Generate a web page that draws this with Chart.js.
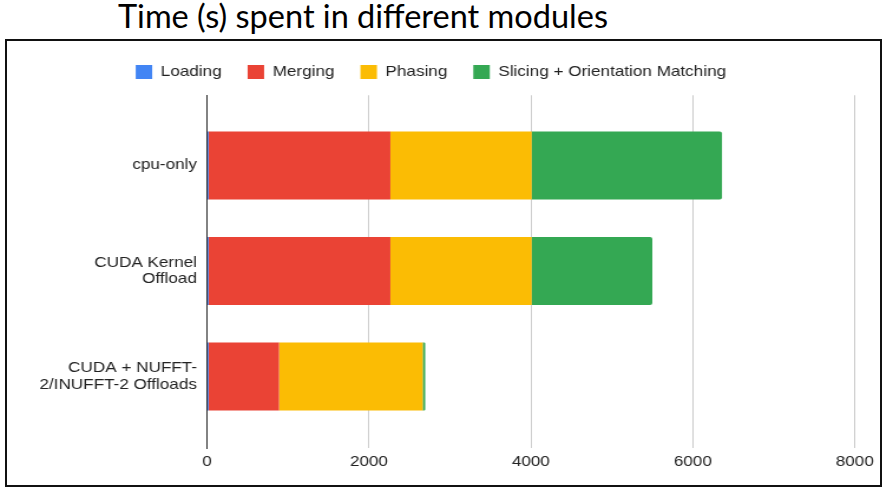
<!DOCTYPE html>
<html>
<head>
<meta charset="utf-8">
<script src="https://cdn.jsdelivr.net/npm/chart.js@4/dist/chart.umd.min.js"></script>
<style>
  html, body { margin: 0; padding: 0; background: #fff; width: 883px; height: 489px; overflow: hidden; }
  #title {
    position: absolute; left: 118px; top: -4px;
    font-family: Lato, "Open Sans", sans-serif; font-size: 32.5px; color: #000;
    white-space: nowrap; line-height: 40px;
  }
  #frame {
    position: absolute; left: 5px; top: 39px; width: 877px; height: 448px;
    border: 2px solid #111; box-sizing: border-box; overflow: hidden;
  }
  #stretch { position: absolute; left: 0; top: 0; transform-origin: 0 0; }
  canvas { display: block; }
</style>
</head>
<body>
<div id="title">Time (s) spent in different modules</div>
<div id="frame"><div id="stretch"><canvas id="chart" width="740" height="444"></canvas></div></div>
<script>
// Run configurations (one bar each) and how their labels wrap
const categories = ['cpu-only', 'CUDA Kernel Offload', 'CUDA + NUFFT-2/INUFFT-2 Offloads'];
const categoryLines = [['cpu-only'], ['CUDA Kernel', 'Offload'], ['CUDA + NUFFT-', '2/INUFFT-2 Offloads']];

// Seconds spent in each module per configuration
const loading = [20, 20, 20];
const merging = [2245, 2245, 870];
const phasing = [1745, 1745, 1775];
const slicing = [2350, 1490, 30];

const xTicks = [0, 2000, 4000, 6000, 8000];

// The chart is drawn at a narrower width and stretched horizontally to fill the frame
const INNER_W = 740;
const FRAME_W = 873;
document.getElementById('stretch').style.transform = 'scaleX(' + (FRAME_W / INNER_W) + ')';

const toPoints = arr => arr.map((v, i) => ({ x: v, y: i }));

// Adds a little room between the legend and the plot area
const legendGap = {
  id: 'legendGap',
  afterInit(chart) {
    const fit = chart.legend.fit;
    chart.legend.fit = function () { fit.call(this); this.height += 6; };
  }
};

const font = { family: '"Liberation Sans", Arial, sans-serif', size: 14.5, lineHeight: 1.15 };

new Chart(document.getElementById('chart'), {
  type: 'bar',
  data: {
    datasets: [
      { label: 'Loading', data: toPoints(loading), backgroundColor: '#4285F4' },
      { label: 'Merging', data: toPoints(merging), backgroundColor: '#EA4335' },
      { label: 'Phasing', data: toPoints(phasing), backgroundColor: '#FBBC04' },
      { label: 'Slicing + Orientation Matching', data: toPoints(slicing), backgroundColor: '#34A853', borderRadius: 2, borderSkipped: 'start' }
    ]
  },
  plugins: [legendGap],
  options: {
    indexAxis: 'y',
    responsive: false,
    animation: false,
    devicePixelRatio: 1,
    categoryPercentage: 1,
    barPercentage: 0.643,
    layout: { padding: { top: 1.75, right: 21.4, bottom: 10, left: 0 } },
    plugins: {
      legend: {
        position: 'top',
        labels: { boxWidth: 14, boxHeight: 14, padding: 22, color: '#222', font: font }
      },
      tooltip: { enabled: false }
    },
    scales: {
      x: {
        type: 'linear',
        stacked: true,
        min: 0,
        max: 8000,
        afterBuildTicks: scale => { scale.ticks = xTicks.map(v => ({ value: v })); },
        grid: {
          color: ctx => (ctx.tick && ctx.tick.value === 0 ? '#333' : '#cccccc'),
          lineWidth: 1,
          drawTicks: false
        },
        border: { display: false },
        ticks: { color: '#222', font: font, padding: 5, maxRotation: 0, callback: v => String(v) }
      },
      y: {
        type: 'linear',
        stacked: true,
        reverse: true,
        offset: false,
        min: -0.665,
        max: 2.68,
        afterBuildTicks: scale => { scale.ticks = categories.map((_, i) => ({ value: i })); },
        afterFit: scale => { scale.width = 169.5; },
        grid: { display: false, drawTicks: false, offset: false },
        border: { display: true, color: '#222', width: 1 },
        ticks: {
          color: '#222',
          font: font,
          padding: 8.5,
          callback: v => categoryLines[v] || ''
        }
      }
    }
  }
});
</script>
</body>
</html>
